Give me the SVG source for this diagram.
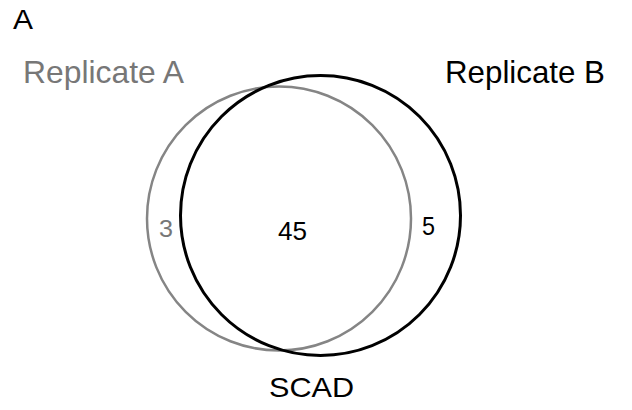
<svg xmlns="http://www.w3.org/2000/svg" width="632" height="410" viewBox="0 0 632 410">
<style>
text{font-family:"Liberation Sans",Arial,sans-serif;}
.g{fill:#777;}
.k{fill:#000;}
.setA{fill:none;stroke:#858585;stroke-width:2.5;}
.setB{fill:none;stroke:#000;stroke-width:3;}
</style>
<rect width="632" height="410" fill="#fff"/>
<text x="13" y="29" font-size="27.5" textLength="20" lengthAdjust="spacingAndGlyphs" class="k">A</text>
<g id="setA">
<circle cx="279" cy="218.5" r="132" class="setA"/>
<text x="23" y="83" font-size="30.5" textLength="161" lengthAdjust="spacingAndGlyphs" class="g">Replicate A</text>
</g>
<g id="setB">
<circle cx="320.5" cy="215.5" r="140" class="setB"/>
<text x="445" y="83" font-size="30.5" textLength="160" lengthAdjust="spacingAndGlyphs" class="k">Replicate B</text>
</g>
<g id="counts">
<text x="159" y="237" font-size="24" textLength="14" lengthAdjust="spacingAndGlyphs" class="g">3</text>
<text x="278" y="240" font-size="25" textLength="29" lengthAdjust="spacingAndGlyphs" class="k">45</text>
<text x="422" y="235" font-size="25" textLength="13" lengthAdjust="spacingAndGlyphs" class="k">5</text>
</g>
<text x="269" y="397" font-size="28" textLength="85" lengthAdjust="spacingAndGlyphs" class="k">SCAD</text>
</svg>
